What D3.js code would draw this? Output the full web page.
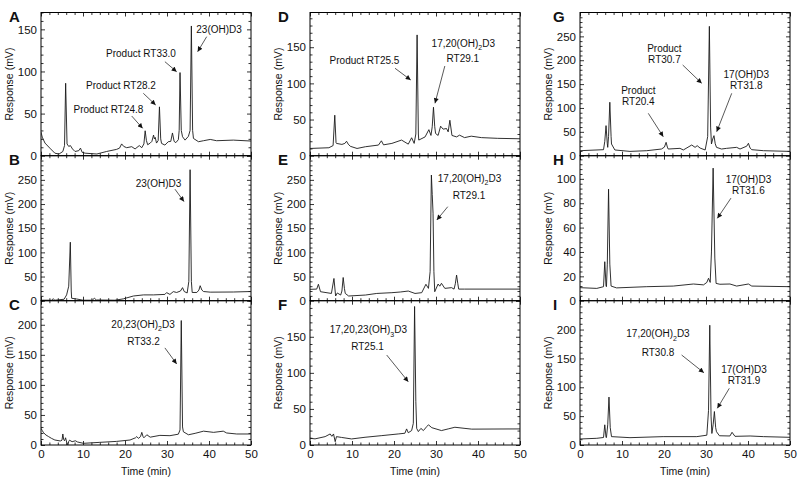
<!DOCTYPE html>
<html><head><meta charset="utf-8">
<script src="https://cdn.jsdelivr.net/npm/d3@7"></script>
<style>
body{margin:0;background:#fff}
svg{display:block}
text{font-family:"Liberation Sans",Arial,Helvetica,sans-serif;fill:#111}
</style>
</head><body>
<svg id="chart" width="800" height="484"></svg>
<script>
// ---------- data ----------
const timeDomain = [0, 50];
const timeTicks = [0, 10, 20, 30, 40, 50];
const panelLetters = ["A","B","C","D","E","F","G","H","I"];
const yMaxes = [170, 300, 240, 198, 300, 200, 300, 119, 250];
const ySteps = [50, 50, 50, 50, 50, 50, 50, 20, 50];

const traceA = [[0,28],[0.3,22],[0.95,15],[2.1,9],[3.3,3],[4.3,2],[5.2,5],[5.6,12],[5.87,86],[6.2,14],[6.6,11],[7.0,12],[7.5,8],[8.1,5],[9.0,6],[9.4,9],[9.8,4],[10.5,3],[13.3,2],[15.6,5],[18,7.5],[18.7,9],[19.2,14],[19.7,11],[20.4,9.5],[21.6,10.7],[22.4,8],[23.4,12],[24,9.5],[24.5,14],[24.8,29.6],[25.1,18],[25.4,13],[26.0,15],[26.4,17],[26.8,24.5],[27.0,20],[27.2,21.7],[27.5,15],[27.9,18],[28.2,58],[28.5,20],[28.7,14.6],[29.5,12.6],[30.3,16.6],[30.9,17],[31.3,27],[31.7,17],[32.1,15.5],[32.7,19],[32.9,30],[33.1,98.7],[33.4,30],[33.7,22.5],[34.3,18.5],[35.1,23],[35.5,30],[35.8,154],[36.1,30],[36.3,20.5],[37.5,16.6],[38.7,17.8],[40.3,19.3],[41.8,17.8],[45.8,18.5],[50,17.4]];
const traceB = [[0,1],[2.5,1],[2.9,4],[3.3,1],[5.5,3],[6.1,12],[6.6,30],[6.98,121],[7.2,20],[7.3,5],[8.5,3.5],[10,1],[12.2,1],[12.7,5],[13.2,1.5],[17.6,1],[19.6,3.8],[22,9.7],[24.4,12],[26.8,12],[29.5,13],[29.9,16.7],[30.7,13],[31.5,18.8],[32.3,17],[33.2,20],[33.7,27],[34.1,19],[34.8,16],[35.2,40],[35.5,271],[35.8,40],[36,17],[37.1,17],[37.6,22],[37.9,31],[38.3,22],[38.7,19],[40.3,17.7],[45.8,18],[50,19]];
const traceC = [[0,27.8],[0.3,24],[0.6,20.5],[1.2,16.5],[1.8,14],[2.5,11],[3.3,8.3],[4.6,6.7],[5.0,8],[5.2,18.3],[5.4,9],[5.6,7],[5.85,12],[6.1,5],[6.4,0],[6.6,6],[6.8,8],[7.4,5.5],[8.2,7],[8.7,5],[10.1,2.8],[14,4.4],[18,6],[21.2,8.3],[22.5,12],[22.8,14],[23.2,11],[23.7,14],[24,21],[24.3,14],[24.5,12],[25.2,17],[26,13],[28.3,16],[30.7,15.5],[32.7,18],[33.1,25],[33.4,207],[33.7,30],[33.9,22],[35.1,17],[36.7,19.4],[38.7,23],[41.1,21],[43.4,23],[44.2,20],[46.6,18.3],[50,18.3]];
const traceD = [[0,10],[4.5,11],[5.5,14],[5.9,56],[6.2,18],[6.3,17],[7.6,15.6],[8.3,17],[8.7,20],[9.1,16],[9.6,13],[11.2,10],[13.2,12.4],[16.3,14.7],[17,20.6],[17.5,15],[19.5,17],[21.8,21.6],[23.4,16],[24.2,24.8],[24.8,17],[25.2,30],[25.5,167],[25.8,30],[25.9,21.6],[27.4,26],[28.3,36],[28.8,28],[29.1,40],[29.4,67],[29.7,40],[29.9,30.7],[30.5,28],[31.1,40.8],[31.7,36.7],[32.5,37.6],[32.9,33],[33.3,49],[33.8,28],[34.9,26],[35.6,28.4],[36.8,25],[38.4,27],[40.8,25],[44.7,24],[50,23.4]];
const traceE = [[0,23.5],[1.6,24],[2,34],[2.5,18.6],[5.1,15],[5.7,46],[6.1,9.7],[6.5,16],[7.3,11.7],[7.6,20],[7.9,48],[8.2,25],[8.4,15],[9.2,9.7],[13.2,11.7],[15.9,15],[19.5,16.6],[21.5,18],[23.4,20],[25,15],[26.6,16.6],[27.6,34],[28.2,25.5],[28.6,60],[28.9,260],[29.1,220],[29.3,181],[29.5,60],[29.7,18.6],[30.5,34.5],[30.9,30],[31.3,36],[32.1,25.5],[33.7,27],[34.3,24],[34.6,35],[34.9,53],[35.2,35],[35.4,24],[36.8,24],[50,24]];
const traceF = [[0,9.3],[1.2,8.5],[3.6,11.6],[4.8,15.3],[5.2,12],[5.6,15.3],[6,4.6],[6.3,11.6],[7.5,10.5],[9.9,8.4],[13.1,10.7],[17.1,13],[21,15.3],[22.6,16.3],[23,22.3],[23.4,17],[24.2,20],[24.6,30],[24.9,192],[25.2,60],[25.4,23],[25.8,18.6],[26.4,23],[27,20],[27.8,25.5],[28.2,28],[29,24],[31.3,20],[32.9,22.3],[34.5,24.6],[36.9,23],[38.5,22],[50,22.3]];
const traceG = [[0,10.5],[5.6,12.6],[5.9,30],[6.2,63],[6.5,25],[6.6,17.5],[6.8,40],[7.1,112],[7.4,40],[7.5,24.5],[8.3,12],[11.9,9],[15.9,10.5],[19.4,14],[20.1,18],[20.5,28],[20.8,18],[21,14],[23.8,15.4],[24.6,12],[26.6,22.4],[27.4,17.5],[27.9,21],[28.6,16],[29.8,12],[30.4,40],[30.8,271],[31.1,60],[31.3,24.5],[31.6,35],[31.9,42],[32.2,25],[32.5,17.5],[33.7,14],[34.9,15.4],[37.3,17.5],[38.1,14],[39.7,20],[40.1,26],[40.5,16],[40.9,12.6],[43.7,10.5],[50,9]];
const traceH = [[0,10.7],[4,10.1],[5.6,11.5],[5.9,32],[6.2,12],[6.3,11.5],[6.5,30],[6.8,91.5],[7.1,30],[7.4,12],[8.7,10.5],[15.9,11.5],[22.2,12],[27,13.7],[29.4,13],[30.2,15],[30.6,18.4],[31,15],[31.3,40],[31.7,108.8],[32.1,35],[32.4,14.2],[33.3,13.5],[35.7,13.7],[37.3,12],[40.1,13.7],[40.9,12],[50,11.5]];
const traceI = [[0,10.4],[4,11.6],[5.6,13],[5.9,35],[6.2,13],[6.3,13],[6.6,35],[6.9,83],[7.2,30],[7.5,14.5],[11.9,12.7],[19.8,14.5],[27.8,14.5],[30.2,17],[30.6,60],[30.9,207.5],[31.2,50],[31.4,20],[31.7,35],[32,58],[32.3,30],[32.5,23],[33.2,16],[35.7,15.6],[36.2,22],[36.9,15],[40.5,15.6],[43.7,14.5],[50,13.3]];

// annotations: text lines [label, time, response], arrow [t0, v0, t1, v1]
const notesA = [
  {lines:[["23(OH)D3",42.4,145.7]], arrow:[39.45,141.3,37.3,123.5]},
  {lines:[["Product RT33.0",23.8,117.2]], arrow:[29.5,111.6,32.3,99.7]},
  {lines:[["Product RT28.2",19.05,79.2]], arrow:[24.36,74.1,27.3,60.2]},
  {lines:[["Product RT24.8",16.07,50.1]], arrow:[21.6,47.1,24.2,32.5]}
];
const notesB = [{lines:[["23(OH)D3",27.98,235.5]], arrow:[31.9,230.7,34.05,205]}];
const notesC = [{lines:[["20,23(OH)_2D3",24.3,194.6],["RT33.2",24.4,166.3]], arrow:[29.5,161.5,32.3,134.9]}];
const notesD = [
  {lines:[["Product RT25.5",12.98,126.8]], arrow:[20.24,120.9,23.98,104.7]},
  {lines:[["17,20(OH)_2D3",36.5,150.3],["RT29.1",36.4,129.6]], arrow:[32.1,124.0,29.76,72.5]}
];
const notesE = [{lines:[["17,20(OH)_2D3",37.98,245.6],["RT29.1",37.86,210.4]], arrow:[32.8,194.5,30.2,167]}];
const notesF = [{lines:[["17,20,23(OH)_3D3",13.9,155.2],["RT25.1",13.7,131.7]], arrow:[18.26,124.7,23.4,87.7]}];
const notesG = [
  {lines:[["Product",20.1,217.3],["RT30.7",20.1,194.2]], arrow:[24.45,190,28.98,151.7]},
  {lines:[["17(OH)D3",39.6,162.8],["RT31.8",39.6,139.7]], arrow:[36.12,130.7,32.55,50.3]},
  {lines:[["Product",13.9,129.3],["RT20.4",13.9,106.2]], arrow:[16.26,88.8,19.83,39.8]}
];
const notesH = [{lines:[["17(OH)D3",40.1,96.6],["RT31.6",40.1,87.6]], arrow:[35.95,84.2,32.7,67.6]}];
const notesI = [
  {lines:[["17,20(OH)_2D3",18.57,187.1],["RT30.8",18.57,154.2]], arrow:[24.2,155.9,29.5,125.2]},
  {lines:[["17(OH)D3",39.05,124.7],["RT31.9",39.05,105.7]], arrow:[35.55,98.2,32.7,63.6]}
];

const traces = [traceA,traceB,traceC,traceD,traceE,traceF,traceG,traceH,traceI];
const notes = [notesA,notesB,notesC,notesD,notesE,notesF,notesG,notesH,notesI];

// ---------- layout ----------
const colLeft = [41, 310, 580];
const plotW = 210;
const rowTop = [12.5, 155.7, 300.7];
const rowBottom = [155.7, 300.7, 445];
const letterOffset = [32, 32, 27];

const svg = d3.select("#chart");
const defs = svg.append("defs");
defs.append("marker").attr("id","ah").attr("viewBox","0 0 10 10")
  .attr("refX",10).attr("refY",5).attr("markerWidth",6).attr("markerHeight",5)
  .attr("markerUnits","userSpaceOnUse").attr("orient","auto")
  .append("path").attr("d","M0,0L10,5L0,10Z").attr("fill","#111");

function richText(sel, s){
  const parts = s.split(/_(\d)/);
  parts.forEach((p,i)=>{
    if(!p) return;
    if(i%2===1){ sel.append("tspan").attr("dy",3.5).attr("font-size","7px").text(p); }
    else { const ts = sel.append("tspan").text(p); if(i>0) ts.attr("dy",-3.5); }
  });
}

function styleAxis(g){
  g.select(".domain").remove();
  g.selectAll(".tick line").attr("stroke","#000").attr("stroke-width",0.8);
  g.selectAll(".tick text").attr("font-size","11.5px").attr("fill","#111")
    .attr("font-family",'"Liberation Sans",Arial,sans-serif');
}

traces.forEach((trace, i) => {
  const col = Math.floor(i/3), row = i%3;
  const L = colLeft[col], R = L + plotW, T = rowTop[row], B = rowBottom[row];
  const x = d3.scaleLinear().domain(timeDomain).range([L, R]);
  const y = d3.scaleLinear().domain([0, yMaxes[i]]).range([B, T]);
  const g = svg.append("g");

  const step = ySteps[i];
  const majorY = d3.range(0, yMaxes[i] + 0.001, step).filter(v => v < yMaxes[i] - 1);
  const allMajorY = d3.range(0, yMaxes[i] + 0.001, step);
  const minorY = d3.range(0, yMaxes[i] + 0.001, step/5).filter(v => Math.abs(v/step - Math.round(v/step)) > 1e-6);
  const minorX = d3.range(0, 50.001, 2).filter(v => v % 10 !== 0);

  const cid = "clip" + i;
  defs.append("clipPath").attr("id", cid).append("rect")
    .attr("x", L).attr("y", T).attr("width", plotW).attr("height", B - T);

  const isBottom = row === 2;
  g.append("g").attr("transform",`translate(0,${B})`)
    .call(d3.axisBottom(x).tickValues(timeTicks).tickSize(-4).tickSizeOuter(0).tickPadding(5)
      .tickFormat(isBottom ? d3.format("d") : ""))
    .call(styleAxis);
  g.append("g").attr("transform",`translate(0,${B})`)
    .call(d3.axisBottom(x).tickValues(minorX).tickSize(-2.5).tickSizeOuter(0).tickFormat(""))
    .call(styleAxis);
  g.append("g").attr("transform",`translate(0,${T})`)
    .call(d3.axisTop(x).tickValues(timeTicks).tickSize(-4).tickSizeOuter(0).tickFormat(""))
    .call(styleAxis);
  g.append("g").attr("transform",`translate(0,${T})`)
    .call(d3.axisTop(x).tickValues(minorX).tickSize(-2.5).tickSizeOuter(0).tickFormat(""))
    .call(styleAxis);
  g.append("g").attr("transform",`translate(${L},0)`)
    .call(d3.axisLeft(y).tickValues(majorY).tickSize(-4).tickSizeOuter(0).tickPadding(4).tickFormat(d3.format("d")))
    .call(styleAxis);
  g.append("g").attr("transform",`translate(${L},0)`)
    .call(d3.axisLeft(y).tickValues(minorY).tickSize(-2.5).tickSizeOuter(0).tickFormat(""))
    .call(styleAxis);
  g.append("g").attr("transform",`translate(${R},0)`)
    .call(d3.axisRight(y).tickValues(allMajorY).tickSize(-4).tickSizeOuter(0).tickFormat(""))
    .call(styleAxis);
  g.append("g").attr("transform",`translate(${R},0)`)
    .call(d3.axisRight(y).tickValues(minorY).tickSize(-2.5).tickSizeOuter(0).tickFormat(""))
    .call(styleAxis);

  g.append("rect").attr("x", L).attr("y", T).attr("width", plotW).attr("height", B - T)
    .attr("fill","none").attr("stroke","#000").attr("stroke-width",1);

  const line = d3.line().x(d => x(d[0])).y(d => y(d[1]));
  g.append("path").datum(trace).attr("d", line).attr("fill","none")
    .attr("stroke","#1a1a1a").attr("stroke-width",0.9).attr("stroke-linejoin","round")
    .attr("clip-path",`url(#${cid})`);

  notes[i].forEach(n => {
    n.lines.forEach(([s, t, v]) => {
      const tx = g.append("text").attr("x", x(t)).attr("y", y(v))
        .attr("text-anchor","middle").attr("font-size","10px");
      richText(tx, s);
    });
    const [t0, v0, t1, v1] = n.arrow;
    g.append("line").attr("x1", x(t0)).attr("y1", y(v0)).attr("x2", x(t1)).attr("y2", y(v1))
      .attr("stroke","#111").attr("stroke-width",0.7).attr("marker-end","url(#ah)");
  });

  const cy = (T + B) / 2;
  g.append("text").attr("transform",`translate(${L - 28},${cy}) rotate(-90)`)
    .attr("text-anchor","middle").attr("font-size","10.5px").text("Response (mV)");

  if (isBottom) {
    g.append("text").attr("x", (L + R) / 2).attr("y", B + 30)
      .attr("text-anchor","middle").attr("font-size","10.5px").text("Time (min)");
  }

  g.append("text").attr("x", L - letterOffset[col]).attr("y", T + 9.5)
    .attr("font-size","15px").attr("font-weight","bold").text(panelLetters[i]);
});
</script>
</body></html>
